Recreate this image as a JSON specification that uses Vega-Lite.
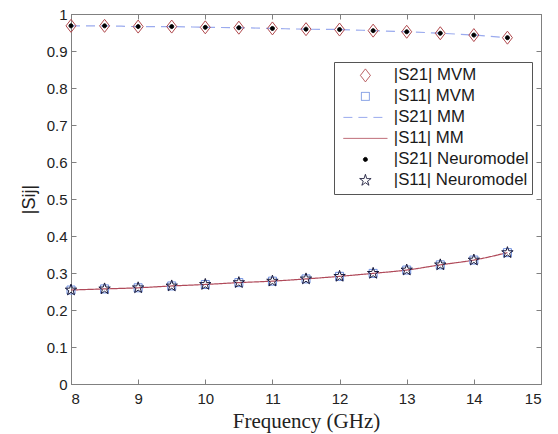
{
  "$schema": "https://vega.github.io/schema/vega-lite/v6.json",
  "width": 470,
  "height": 370,
  "autosize": {"type": "none"},
  "padding": {"left": 71, "top": 14, "right": 17, "bottom": 50},
  "background": "white",
  "config": {
    "view": {"stroke": "#808080", "strokeWidth": 1},
    "axis": {
      "domainColor": "#808080", "tickColor": "#808080", "labelColor": "#222222",
      "labelFont": "Liberation Sans", "labelFontSize": 15, "grid": false, "tickSize": -5,
      "titleColor": "#222222", "titleFontWeight": "normal"
    },
    "legend": {
      "symbolStrokeWidth": 1, "symbolSize": 100, "padding": 3, "strokeColor": "#555555",
      "fillColor": "white", "labelFont": "Liberation Sans", "labelFontSize": 16.8,
      "labelColor": "#1a1a1a", "clipHeight": 20.8, "rowPadding": 0, "symbolOffset": 20,
      "labelOffset": 20, "cornerRadius": 0
    }
  },
  "data": {"values": [
    {"f": 8, "v": 0.968, "s": "|S21| MM"}, {"f": 8.5, "v": 0.968, "s": "|S21| MM"}, {"f": 9, "v": 0.966, "s": "|S21| MM"}, {"f": 9.5, "v": 0.966, "s": "|S21| MM"}, {"f": 10, "v": 0.964, "s": "|S21| MM"}, {"f": 10.5, "v": 0.963, "s": "|S21| MM"}, {"f": 11, "v": 0.961, "s": "|S21| MM"}, {"f": 11.5, "v": 0.959, "s": "|S21| MM"}, {"f": 12, "v": 0.958, "s": "|S21| MM"}, {"f": 12.5, "v": 0.955, "s": "|S21| MM"}, {"f": 13, "v": 0.952, "s": "|S21| MM"}, {"f": 13.5, "v": 0.948, "s": "|S21| MM"}, {"f": 14, "v": 0.943, "s": "|S21| MM"}, {"f": 14.5, "v": 0.936, "s": "|S21| MM"},
    {"f": 8, "v": 0.254, "s": "|S11| MM"}, {"f": 8.5, "v": 0.257, "s": "|S11| MM"}, {"f": 9, "v": 0.26, "s": "|S11| MM"}, {"f": 9.5, "v": 0.265, "s": "|S11| MM"}, {"f": 10, "v": 0.269, "s": "|S11| MM"}, {"f": 10.5, "v": 0.274, "s": "|S11| MM"}, {"f": 11, "v": 0.278, "s": "|S11| MM"}, {"f": 11.5, "v": 0.284, "s": "|S11| MM"}, {"f": 12, "v": 0.291, "s": "|S11| MM"}, {"f": 12.5, "v": 0.299, "s": "|S11| MM"}, {"f": 13, "v": 0.308, "s": "|S11| MM"}, {"f": 13.5, "v": 0.322, "s": "|S11| MM"}, {"f": 14, "v": 0.335, "s": "|S11| MM"}, {"f": 14.5, "v": 0.355, "s": "|S11| MM"},
    {"f": 8, "v": 0.254, "s": "|S11| MVM"}, {"f": 8.5, "v": 0.257, "s": "|S11| MVM"}, {"f": 9, "v": 0.26, "s": "|S11| MVM"}, {"f": 9.5, "v": 0.265, "s": "|S11| MVM"}, {"f": 10, "v": 0.269, "s": "|S11| MVM"}, {"f": 10.5, "v": 0.274, "s": "|S11| MVM"}, {"f": 11, "v": 0.278, "s": "|S11| MVM"}, {"f": 11.5, "v": 0.284, "s": "|S11| MVM"}, {"f": 12, "v": 0.291, "s": "|S11| MVM"}, {"f": 12.5, "v": 0.299, "s": "|S11| MVM"}, {"f": 13, "v": 0.308, "s": "|S11| MVM"}, {"f": 13.5, "v": 0.322, "s": "|S11| MVM"}, {"f": 14, "v": 0.335, "s": "|S11| MVM"}, {"f": 14.5, "v": 0.355, "s": "|S11| MVM"},
    {"f": 8, "v": 0.968, "s": "|S21| MVM"}, {"f": 8.5, "v": 0.968, "s": "|S21| MVM"}, {"f": 9, "v": 0.966, "s": "|S21| MVM"}, {"f": 9.5, "v": 0.966, "s": "|S21| MVM"}, {"f": 10, "v": 0.964, "s": "|S21| MVM"}, {"f": 10.5, "v": 0.963, "s": "|S21| MVM"}, {"f": 11, "v": 0.961, "s": "|S21| MVM"}, {"f": 11.5, "v": 0.959, "s": "|S21| MVM"}, {"f": 12, "v": 0.958, "s": "|S21| MVM"}, {"f": 12.5, "v": 0.955, "s": "|S21| MVM"}, {"f": 13, "v": 0.952, "s": "|S21| MVM"}, {"f": 13.5, "v": 0.948, "s": "|S21| MVM"}, {"f": 14, "v": 0.943, "s": "|S21| MVM"}, {"f": 14.5, "v": 0.936, "s": "|S21| MVM"},
    {"f": 8, "v": 0.254, "s": "|S11| Neuromodel"}, {"f": 8.5, "v": 0.257, "s": "|S11| Neuromodel"}, {"f": 9, "v": 0.26, "s": "|S11| Neuromodel"}, {"f": 9.5, "v": 0.265, "s": "|S11| Neuromodel"}, {"f": 10, "v": 0.269, "s": "|S11| Neuromodel"}, {"f": 10.5, "v": 0.274, "s": "|S11| Neuromodel"}, {"f": 11, "v": 0.278, "s": "|S11| Neuromodel"}, {"f": 11.5, "v": 0.284, "s": "|S11| Neuromodel"}, {"f": 12, "v": 0.291, "s": "|S11| Neuromodel"}, {"f": 12.5, "v": 0.299, "s": "|S11| Neuromodel"}, {"f": 13, "v": 0.308, "s": "|S11| Neuromodel"}, {"f": 13.5, "v": 0.322, "s": "|S11| Neuromodel"}, {"f": 14, "v": 0.335, "s": "|S11| Neuromodel"}, {"f": 14.5, "v": 0.355, "s": "|S11| Neuromodel"},
    {"f": 8, "v": 0.968, "s": "|S21| Neuromodel"}, {"f": 8.5, "v": 0.968, "s": "|S21| Neuromodel"}, {"f": 9, "v": 0.966, "s": "|S21| Neuromodel"}, {"f": 9.5, "v": 0.966, "s": "|S21| Neuromodel"}, {"f": 10, "v": 0.964, "s": "|S21| Neuromodel"}, {"f": 10.5, "v": 0.963, "s": "|S21| Neuromodel"}, {"f": 11, "v": 0.961, "s": "|S21| Neuromodel"}, {"f": 11.5, "v": 0.959, "s": "|S21| Neuromodel"}, {"f": 12, "v": 0.958, "s": "|S21| Neuromodel"}, {"f": 12.5, "v": 0.955, "s": "|S21| Neuromodel"}, {"f": 13, "v": 0.952, "s": "|S21| Neuromodel"}, {"f": 13.5, "v": 0.948, "s": "|S21| Neuromodel"}, {"f": 14, "v": 0.943, "s": "|S21| Neuromodel"}, {"f": 14.5, "v": 0.936, "s": "|S21| Neuromodel"}
  ]},
  "layer": [
    {
      "transform": [{"filter": {"field": "s", "oneOf": ["|S21| MM", "|S11| MM"]}}],
      "mark": {"type": "line", "strokeWidth": 1.2, "interpolate": "monotone"},
      "encoding": {
        "x": {"field": "f", "type": "quantitative", "scale": {"domain": [8, 15], "nice": false},
          "axis": {"values": [8, 9, 10, 11, 12, 13, 14, 15], "title": "Frequency (GHz)", "titleFont": "Liberation Serif", "titleFontSize": 21, "titlePadding": 4, "labelPadding": 12}},
        "y": {"field": "v", "type": "quantitative", "scale": {"domain": [0, 1], "nice": false},
          "axis": {"values": [0, 0.1, 0.2, 0.3, 0.4, 0.5, 0.6, 0.7, 0.8, 0.9, 1], "format": "~g", "title": "|Sij|", "titleFont": "Liberation Sans", "titleFontSize": 18, "titlePadding": 8, "labelPadding": 9}},
        "stroke": {"field": "s", "type": "nominal",
          "scale": {"domain": ["|S21| MVM", "|S11| MVM", "|S21| MM", "|S11| MM", "|S21| Neuromodel", "|S11| Neuromodel"],
            "range": ["#b0484c", "#6f8fdf", "#9aaaee", "#b04a5a", "#000000", "#1a1a3a"]},
          "legend": {"title": null, "orient": "none", "legendX": 263, "legendY": 48}},
        "strokeDash": {"field": "s", "type": "nominal",
          "scale": {"domain": ["|S21| MVM", "|S11| MVM", "|S21| MM", "|S11| MM", "|S21| Neuromodel", "|S11| Neuromodel"],
            "range": [[1, 0], [1, 0], [9, 6], [1, 0], [1, 0], [1, 0]]},
          "legend": {"title": null, "orient": "none", "legendX": 263, "legendY": 48}}
      }
    },
    {
      "transform": [{"filter": {"field": "s", "oneOf": ["|S21| MVM", "|S11| MVM", "|S21| Neuromodel", "|S11| Neuromodel"]}}],
      "mark": {"type": "point", "size": 100, "opacity": 1, "strokeWidth": 1},
      "encoding": {
        "x": {"field": "f", "type": "quantitative", "axis": null},
        "y": {"field": "v", "type": "quantitative", "axis": null},
        "stroke": {"field": "s", "type": "nominal", "legend": {"title": null, "orient": "none", "legendX": 263, "legendY": 48}},
        "fill": {"field": "s", "type": "nominal",
          "scale": {"domain": ["|S21| MVM", "|S11| MVM", "|S21| MM", "|S11| MM", "|S21| Neuromodel", "|S11| Neuromodel"],
            "range": ["transparent", "transparent", "transparent", "transparent", "#000000", "transparent"]},
          "legend": {"title": null, "orient": "none", "legendX": 263, "legendY": 48}},
        "shape": {"field": "s", "type": "nominal",
          "scale": {"domain": ["|S21| MVM", "|S11| MVM", "|S21| MM", "|S11| MM", "|S21| Neuromodel", "|S11| Neuromodel"],
            "range": [
              "M0,-1.3L1,0L0,1.3L-1,0Z",
              "M-0.8,-0.8L0.8,-0.8L0.8,0.8L-0.8,0.8Z",
              "M-4.4,0L4.4,0",
              "M-4.4,0L4.4,0",
              "M-0.4,0A0.4,0.4,0,1,1,0.4,0A0.4,0.4,0,1,1,-0.4,0Z",
              "M0,-1.2L0.269,-0.371L1.141,-0.371L0.436,0.142L0.705,0.971L0,0.458L-0.705,0.971L-0.436,0.142L-1.141,-0.371L-0.269,-0.371Z"
            ]},
          "legend": {"title": null, "orient": "none", "legendX": 263, "legendY": 48}}
      }
    },
    {
      "mark": {"type": "point", "opacity": 0},
      "encoding": {
        "x": {"field": "f", "type": "quantitative", "axis": {"orient": "top", "values": [8, 9, 10, 11, 12, 13, 14, 15], "labels": false, "title": null}},
        "y": {"field": "v", "type": "quantitative", "axis": {"orient": "right", "values": [0, 0.1, 0.2, 0.3, 0.4, 0.5, 0.6, 0.7, 0.8, 0.9, 1], "labels": false, "title": null}}
      }
    }
  ],
  "resolve": {"axis": {"x": "independent", "y": "independent"}}
}
